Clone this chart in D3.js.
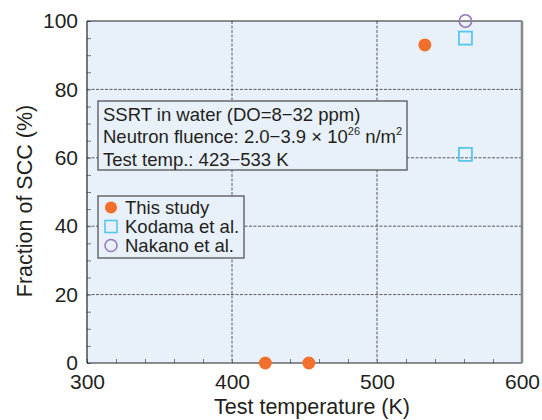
<!DOCTYPE html>
<html>
<head>
<meta charset="utf-8">
<script src="https://cdn.jsdelivr.net/npm/d3@7"></script>
<style>
  body { margin: 0; background: #fff; }
  text { font-family: "Liberation Sans", Arial, sans-serif; fill: #231f20; }
</style>
</head>
<body>
<div id="chart"></div>
<script>
const thisStudyTemp = [423, 453, 533];
const thisStudySCC = [0, 0, 93];
const kodamaTemp = [561, 561];
const kodamaSCC = [95, 61];
const nakanoTemp = [561];
const nakanoSCC = [100];
const xTicks = [300, 400, 500, 600];
const yTicks = [0, 20, 40, 60, 80, 100];
const legendNames = ["This study", "Kodama et al.", "Nakano et al."];

const W = 542, H = 420;
const margin = { top: 21, right: 20, bottom: 57, left: 87 };
const width = 522 - margin.left;
const height = 363 - margin.top;

const svg = d3.select("#chart").append("svg")
    .attr("width", W).attr("height", H);
const g = svg.append("g").attr("transform", `translate(${margin.left},${margin.top})`);

const x = d3.scaleLinear().domain([300, 600]).range([0, width]);
const y = d3.scaleLinear().domain([0, 100]).range([height, 0]);

// plot background
g.append("rect").attr("width", width).attr("height", height).attr("fill", "#e8f0f9");

// grid
g.selectAll(".gx").data(xTicks.slice(1, -1)).enter().append("line")
    .attr("x1", d => x(d)).attr("x2", d => x(d)).attr("y1", 0).attr("y2", height)
    .attr("stroke", "#333").attr("stroke-width", 0.8).attr("stroke-dasharray", "3,1.5");
g.selectAll(".gy").data(yTicks.slice(1, -1)).enter().append("line")
    .attr("y1", d => y(d)).attr("y2", d => y(d)).attr("x1", 0).attr("x2", width)
    .attr("stroke", "#333").attr("stroke-width", 0.8).attr("stroke-dasharray", "3,1.5");

// minor ticks (inward)
g.append("g").attr("transform", `translate(0,${height})`)
    .call(d3.axisTop(x).tickValues(d3.range(300, 601, 20)).tickSize(4).tickFormat(""))
    .call(a => a.select(".domain").remove())
    .selectAll("line").attr("stroke", "#777");
g.append("g")
    .call(d3.axisRight(y).tickValues(d3.range(0, 101, 5)).tickSize(4).tickFormat(""))
    .call(a => a.select(".domain").remove())
    .selectAll("line").attr("stroke", "#777");

// axis labels
const xa = g.append("g").attr("transform", `translate(0,${height})`)
    .call(d3.axisBottom(x).tickValues(xTicks).tickSize(0));
xa.select(".domain").remove();
xa.selectAll("text").style("font-size", "21px").attr("y", 0).attr("dy", "25.5px");
const ya = g.append("g")
    .call(d3.axisLeft(y).tickValues(yTicks).tickSize(0).tickPadding(9));
ya.select(".domain").remove();
ya.selectAll("text").style("font-size", "21px");

// frame
g.append("line").attr("x1", 0).attr("x2", width).attr("y1", 0).attr("y2", 0).attr("stroke", "#222").attr("stroke-width", 1.2);
g.append("line").attr("x1", 0).attr("x2", width).attr("y1", height).attr("y2", height).attr("stroke", "#222").attr("stroke-width", 1.2);
g.append("line").attr("x1", 0).attr("x2", 0).attr("y1", 0).attr("y2", height).attr("stroke", "#222").attr("stroke-width", 1.2);
g.append("line").attr("x1", width).attr("x2", width).attr("y1", 0).attr("y2", height).attr("stroke", "#888").attr("stroke-width", 2.5);

// titles
svg.append("text").attr("x", 312).attr("y", 413.5)
    .attr("text-anchor", "middle").style("font-size", "21.5px").text("Test temperature (K)");
svg.append("text").attr("transform", "translate(32,201) rotate(-90)")
    .attr("text-anchor", "middle").style("font-size", "21.5px").text("Fraction of SCC (%)");

// annotation box
const ann = g.append("g").attr("transform", `translate(${98 - margin.left},${101 - margin.top})`);
ann.append("rect").attr("width", 309).attr("height", 69)
    .attr("fill", "#e8f0f9").attr("stroke", "#555").attr("stroke-width", 1.3);
const annText = ann.append("text").style("font-size", "18.5px");
annText.append("tspan").attr("x", 5).attr("y", 19.5).text("SSRT in water (DO=8\u221232 ppm)");
const l2 = annText.append("tspan").attr("x", 5).attr("y", 42);
l2.append("tspan").text("Neutron fluence: 2.0\u22123.9 \u00d7 10");
l2.append("tspan").attr("dy", -8).style("font-size", "11px").text("26");
l2.append("tspan").attr("dy", 8).text(" n/m");
l2.append("tspan").attr("dy", -8).style("font-size", "11px").text("2");
annText.append("tspan").attr("x", 5).attr("y", 64.5).text("Test temp.: 423\u2212533 K");

// data
const orange = "#f36f2e", cyan = "#56c6ee", purple = "#9577bb";
g.selectAll(".ts").data(thisStudyTemp).enter().append("circle")
    .attr("cx", d => x(d)).attr("cy", (d, i) => y(thisStudySCC[i])).attr("r", 6.5).attr("fill", orange);
g.selectAll(".kd").data(kodamaTemp).enter().append("rect")
    .attr("x", d => x(d) - 6.5).attr("y", (d, i) => y(kodamaSCC[i]) - 6.5)
    .attr("width", 13).attr("height", 13).attr("fill", "none").attr("stroke", cyan).attr("stroke-width", 1.8);
g.selectAll(".nk").data(nakanoTemp).enter().append("circle")
    .attr("cx", d => x(d)).attr("cy", (d, i) => y(nakanoSCC[i])).attr("r", 6.2)
    .attr("fill", "none").attr("stroke", purple).attr("stroke-width", 1.6);

// legend
const leg = g.append("g").attr("transform", `translate(${98 - margin.left},${196 - margin.top})`);
leg.append("rect").attr("width", 146).attr("height", 62)
    .attr("fill", "#e8f0f9").attr("stroke", "#555").attr("stroke-width", 1.3);
legendNames.forEach((name, i) => {
    const cy = 11.5 + i * 19;
    if (i === 0) leg.append("circle").attr("cx", 13).attr("cy", cy).attr("r", 6).attr("fill", orange);
    if (i === 1) leg.append("rect").attr("x", 7).attr("y", cy - 6).attr("width", 12).attr("height", 12)
        .attr("fill", "none").attr("stroke", cyan).attr("stroke-width", 1.6);
    if (i === 2) leg.append("circle").attr("cx", 13).attr("cy", cy).attr("r", 6)
        .attr("fill", "none").attr("stroke", purple).attr("stroke-width", 1.5);
    leg.append("text").attr("x", 27).attr("y", cy).attr("dy", "0.36em")
        .style("font-size", "18.5px").text(name);
});
</script>
</body>
</html>
